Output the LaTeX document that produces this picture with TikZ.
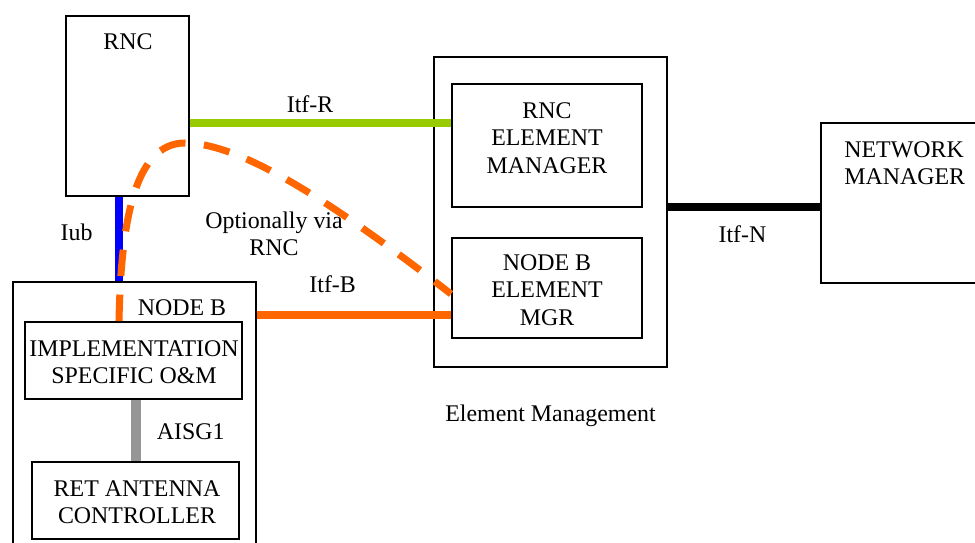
\documentclass[tikz,border=0pt]{standalone}
\usepackage{fontspec}
\setmainfont{Liberation Serif}
\usetikzlibrary{fit, positioning}

\definecolor{itfgreen}{RGB}{153,204,0}
\definecolor{itforange}{RGB}{255,102,0}
\definecolor{aisggrey}{RGB}{150,150,150}

\begin{document}
\begin{tikzpicture}[
    x=0.02cm, y=-0.02cm,
    box/.style={draw, line width=1.1pt, inner sep=0pt},
    lbl/.style={inner sep=0pt, align=center, text=black},
    link/.style={line width=4pt},
    optlink/.style={link, color=itforange, dash pattern=on 0.53cm off 0.37cm},
    font=\fontsize{13.6}{15.6}\selectfont
]
\useasboundingbox (0,0) rectangle (975,542);
\clip (0,0) rectangle (975,542);

% Boxes
\node[box, fit={(66,16) (189,196)}] (rnc) {};
\node[box, fit={(13,282) (256,580)}] (nodeb) {};
\node[box, fit={(25,322) (242,399)}] (impl) {};
\node[box, fit={(32,462) (239,539)}] (ret) {};
\node[box, fit={(434,57) (667,367)}] (emgmt) {};
\node[box, fit={(452,84) (642,207)}] (rncem) {};
\node[box, fit={(452,238) (642,338)}] (nbem) {};
\node[box, fit={(821,123) (1000,283)}] (nm) {};

% Box texts
\node[lbl] (rnctxt) at (128,42) {RNC};
\node[lbl] (nodebtxt) at (182,308) {NODE B};
\node[lbl] (impltxt) at (134,362) {IMPLEMENTATION\\SPECIFIC O\&M};
\node[lbl] (rettxt) at (137,502) {RET ANTENNA\\CONTROLLER};
\node[lbl] (rncemtxt) at (547,138) {RNC\\ELEMENT\\MANAGER};
\node[lbl] (nbemtxt) at (547,290) {NODE B\\ELEMENT\\MGR};
\node[lbl, anchor=west, align=left] (nmtxt) at (844,163) {NETWORK\\MANAGER};
\node[lbl, below=0.74cm of emgmt] (emtxt) {Element Management};
\node[lbl] (opttxt) at (274,234) {Optionally via\\RNC};

% Levels of the links
\coordinate (iubx) at (119,0);
\coordinate (aisgx) at (136,0);
\coordinate (itfry) at (0,123);
\coordinate (itfby) at (0,315);
\coordinate (itfny) at (0,207);
\coordinate (opty) at (0,294);

% Links
\draw[link, color=itfgreen] (rnc.east |- itfry)
    -- node[lbl, pos=0.46, above=0.14cm] (itfr) {Itf-R} (rncem.west |- itfry);
\draw[link, line width=4.5pt, color=blue] (rnc.south -| iubx)
    -- node[lbl, pos=0.42, left=0.45cm] (iub) {Iub} (nodeb.north -| iubx);
\draw[link, color=itforange] (nodeb.east |- itfby)
    -- node[lbl, pos=0.39, above=0.38cm] (itfb) {Itf-B} (nbem.west |- itfby);
\draw[link] (emgmt.east |- itfny)
    -- node[lbl, pos=0.49, below=0.3cm] (itfn) {Itf-N} (nm.west |- itfny);
\draw[link, line width=5.5pt, color=aisggrey] (impl.south -| aisgx)
    -- node[lbl, pos=0.52, right=0.32cm] (aisg) {AISG1} (ret.north -| aisgx);

% Optional path via RNC
\draw[optlink] (impl.north -| iubx) .. controls (121,220) and (135,143) .. (185,143)
    .. controls (240,143) and (330,200) .. (nbem.west |- opty);

\end{tikzpicture}
\end{document}
